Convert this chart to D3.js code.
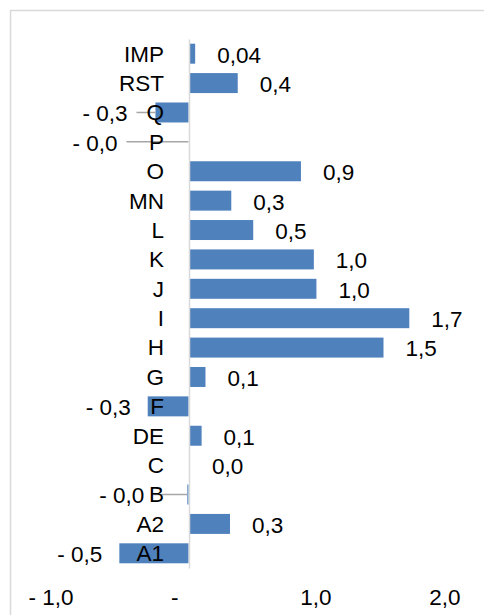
<!DOCTYPE html>
<html>
<head>
<meta charset="utf-8">
<script src="https://cdn.jsdelivr.net/npm/d3@7"></script>
<style>
  html, body { margin: 0; padding: 0; background: #fff; }
  svg { display: block; }
  text { font-family: "Liberation Sans", Arial, sans-serif; fill: #000; }
</style>
</head>
<body>
<svg id="chart" width="484" height="615"></svg>
<script>
// ---- data (top to bottom as displayed) ----
const categories = ["IMP","RST","Q","P","O","MN","L","K","J","I","H","G","F","DE","C","B","A2","A1"];
const values     = [0.04, 0.37, -0.26, -0.004, 0.86, 0.32, 0.49, 0.96, 0.98, 1.70, 1.50, 0.12, -0.32, 0.09, 0.0, -0.013, 0.31, -0.54];
const decimals   = [2, 1, 1, 1, 1, 1, 1, 1, 1, 1, 1, 1, 1, 1, 1, 1, 1, 1];
const xTicks     = [-1, 0, 1, 2];
const xTickLabels = ["- 1,0", "-", "1,0", "2,0"];

// ---- layout ----
const FONT = 22.5;
const svg = d3.select("#chart");

svg.append("rect")
  .attr("x", 10.5).attr("y", 10.5)
  .attr("width", 500).attr("height", 640)
  .attr("fill", "#fff").attr("stroke", "#d9d9d9").attr("stroke-width", 1.5);

const x = d3.scaleLinear().domain([-1, 2]).range([60, 447]);
const y = d3.scaleBand().domain(categories).range([39, 568])
  .paddingInner(0.32).paddingOuter(0.16);

const data = categories.map((c, i) => ({ c, v: values[i], dec: decimals[i] }));

function fmt(v, dec) {
  const s = Math.abs(v).toFixed(dec).replace(".", ",");
  return v < 0 ? "- " + s : s;
}

// bars
svg.append("g").selectAll("rect")
  .data(data.filter(d => d.v !== 0)).join("rect")
  .attr("x", d => d.v >= 0 ? x(0) + 1 : x(d.v))
  .attr("y", d => y(d.c))
  .attr("width", d => d.v >= 0 ? Math.abs(x(d.v) - x(0)) : Math.max(0, Math.abs(x(0) - x(d.v)) - 0.5))
  .attr("height", y.bandwidth())
  .attr("fill", "#4f81bd");

// data label nudges for labels dragged away with leader lines (layout only)
const labelNudge = { Q: -11, P: -54, B: -26 };
const NEG_GAP = 17, POS_GAP = 23;

const labelX = d => d.v >= 0 ? x(d.v) + POS_GAP : x(d.v) - NEG_GAP + (labelNudge[d.c] || 0);

// leader lines
svg.append("g").selectAll("line")
  .data(data.filter(d => labelNudge[d.c] !== undefined)).join("line")
  .attr("x1", d => labelX(d) + 9)
  .attr("x2", d => x(d.v))
  .attr("y1", d => y(d.c) + y.bandwidth() / 2)
  .attr("y2", d => y(d.c) + y.bandwidth() / 2)
  .attr("stroke", "#a6a6a6").attr("stroke-width", 1.5);

// y axis (category labels)
const yAxis = d3.axisLeft(y).tickSize(0).tickPadding(25).tickSizeOuter(0);
const gy = svg.append("g").attr("transform", `translate(${x(0)},0)`).call(yAxis);
gy.select(".domain").attr("stroke", "#d9d9d9").attr("stroke-width", 1.5);
gy.selectAll("text")
  .attr("font-size", FONT)
  .attr("font-family", "Liberation Sans, Arial, sans-serif")
  .attr("fill", "#000")
  .attr("dy", "0.35em");

// data labels
svg.append("g").selectAll("text")
  .data(data).join("text")
  .attr("x", labelX)
  .attr("y", d => y(d.c) + y.bandwidth() / 2 + 1)
  .attr("dy", "0.35em")
  .attr("text-anchor", d => d.v >= 0 ? "start" : "end")
  .attr("font-size", FONT)
  .text(d => fmt(d.v, d.dec));

// x axis (labels only)
const xAxis = d3.axisBottom(x).tickValues(xTicks)
  .tickFormat((d, i) => xTickLabels[i]).tickSize(0).tickPadding(0);
const gx = svg.append("g").attr("transform", "translate(0,605)").call(xAxis);
gx.select(".domain").remove();
gx.selectAll("text")
  .attr("font-size", FONT)
  .attr("font-family", "Liberation Sans, Arial, sans-serif")
  .attr("fill", "#000")
  .attr("y", 0).attr("dy", 0)
  .attr("text-anchor", "end")
  .attr("dx", d => d === 0 ? -11 : 13);
</script>
</body>
</html>
